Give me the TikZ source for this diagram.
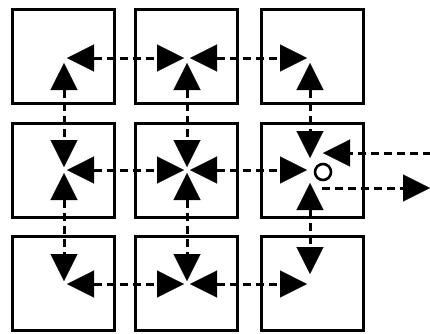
\documentclass[tikz,border=0pt]{standalone}
\usetikzlibrary{arrows.meta}
\begin{document}
\begin{tikzpicture}[x=1pt,y=-1pt,
  cell/.style={draw, line width=3pt, minimum width=102pt, minimum height=94pt, inner sep=0pt},
  dashline/.style={line width=3pt, dash pattern=on 8pt off 5pt},
  link/.style={dashline, {Triangle[length=27pt,width=27pt,line width=0.1pt]}-{Triangle[length=27pt,width=27pt,line width=0.1pt]}, shorten <=3pt, shorten >=3pt},
  ring/.style={draw, circle, line width=2.6pt, minimum size=16pt, inner sep=0pt}]
\useasboundingbox (0,0) rectangle (430,333);
% boxes
\node[cell] (b11) at (63,56) {};
\node[cell] (b12) at (186.5,56) {};
\node[cell] (b13) at (312,56) {};
\node[cell] (b21) at (63,170.5) {};
\node[cell] (b22) at (186.5,170.5) {};
\node[cell] (b23) at (312,170.5) {};
\node[cell] (b31) at (63,283.5) {};
\node[cell] (b32) at (186.5,283.5) {};
\node[cell] (b33) at (312,283.5) {};
% arrow meeting points
\coordinate (c11) at (64,58);
\coordinate (c12) at (187,58);
\coordinate (c13) at (310,58);
\coordinate (c21) at (64,170);
\coordinate (c22) at (187,170);
\coordinate (c23) at (310,170);
\coordinate (c31) at (64,284);
\coordinate (c32) at (187,284);
\coordinate (c33) at (310,284);
% horizontal links
\draw[link] (c11) -- (c12);
\draw[link] (c12) -- (c13);
\draw[link] (c21) -- (c22);
\draw[link] (c22) -- (c23);
\draw[link] (c31) -- (c32);
\draw[link] (c32) -- (c33);
% vertical links
\draw[link, shorten <=5pt] (c11) -- (c21);
\draw[link] (c21) -- (c31);
\draw[link, shorten <=5pt] (c12) -- (c22);
\draw[link] (c22) -- (c32);
\draw[link, shorten <=5pt, shorten >=12pt] (c13) -- (c23);
\draw[link, shorten <=13pt, shorten >=10pt] (c23) -- (c33);
% circle and external lines
\node[ring] (o) at (323,172) {};
\coordinate (inE) at (431,153);
\coordinate (inT) at (323,153);
\coordinate (outS) at (322,188);
\coordinate (outE) at (430,188);
\draw[dashline, -{Triangle[length=27pt,width=27pt,line width=0.1pt]}] (inE) -- (inT);
\draw[dashline, -{Triangle[length=27pt,width=27pt,line width=0.1pt]}] (outS) -- (outE);
\end{tikzpicture}
\end{document}
